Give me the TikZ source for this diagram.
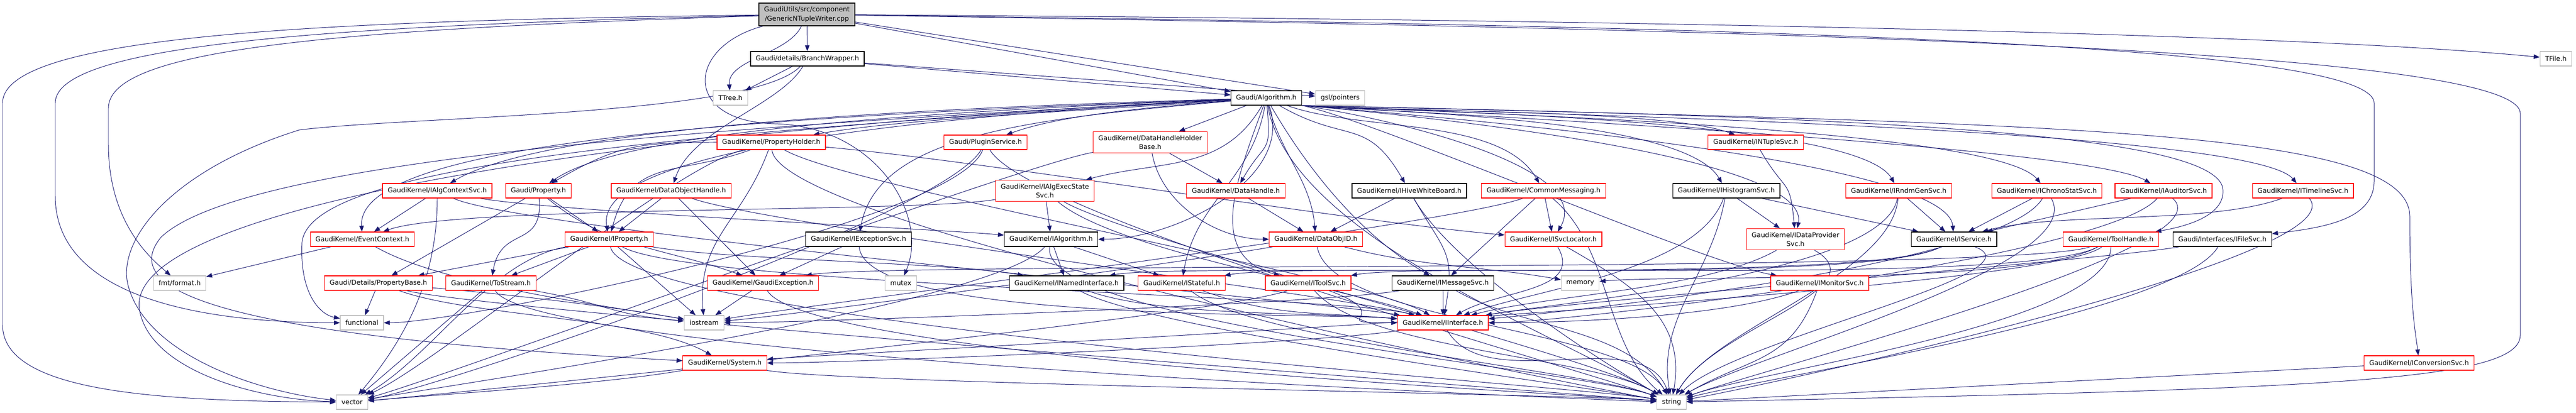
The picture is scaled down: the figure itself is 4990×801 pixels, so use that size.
\documentclass[tikz,border=0pt]{standalone}
\usepackage{fontspec}
\setmainfont{DejaVu Sans}
\usetikzlibrary{arrows.meta,backgrounds}
\definecolor{edgeblue}{HTML}{191970}
\definecolor{sysgray}{HTML}{BFBFBF}

\begin{document}
\begin{tikzpicture}[x=0.01cm, y=0.01cm, >={Triangle[length=3.3pt,width=2.5pt]}, every node/.style={font=\fontsize{3.65}{4.95}\selectfont}]
  % header boxes as doxygen draws them (red = truncated, black = complete, gray = system)
  \tikzset{hdr/.style={draw, fill=white, rectangle, line width=0.35pt, minimum height=0.28cm, inner xsep=0.1cm, inner ysep=0.07cm, align=center},
    redhdr/.style={hdr, draw=red},
    blkhdr/.style={hdr, draw=black},
    syshdr/.style={hdr, draw=sysgray},
    dep/.style={->, draw=edgeblue, line width=0.28pt, distance=1.5cm}}
  \useasboundingbox (0,0) rectangle (4990,-801);

  % rows 0-2
  \node[hdr, draw=black, fill=sysgray] (root) at (1563,-28) {GaudiUtils/src/component\\/GenericNTupleWriter.cpp};
  \node[blkhdr] (bw) at (1564,-114) {Gaudi/details/BranchWrapper.h};
  \node[syshdr] (tfile) at (4951,-114) {TFile.h};
  \node[syshdr] (ttree) at (1415,-190) {TTree.h};
  \node[blkhdr] (alg) at (2453,-190) {Gaudi/Algorithm.h};
  \node[syshdr] (gsl) at (2596,-190) {gsl/pointers};

  % row 3
  \node[redhdr] (propholder) at (1494,-276) {GaudiKernel/PropertyHolder.h};
  \node[redhdr] (plugin) at (1909,-276) {Gaudi/PluginService.h};
  \node[redhdr] (dhhb) at (2228,-276) {GaudiKernel/DataHandleHolder\\Base.h};
  \node[redhdr] (ntuple) at (3401,-276) {GaudiKernel/INTupleSvc.h};

  % row 4
  \node[redhdr] (algctx) at (847,-370) {GaudiKernel/IAlgContextSvc.h};
  \node[redhdr] (prop) at (1043,-370) {Gaudi/Property.h};
  \node[redhdr] (doh) at (1300,-370) {GaudiKernel/DataObjectHandle.h};
  \node[redhdr] (algexec) at (2024,-370) {GaudiKernel/IAlgExecState\\Svc.h};
  \node[redhdr] (dh) at (2394,-370) {GaudiKernel/DataHandle.h};
  \node[blkhdr] (hive) at (2730,-370) {GaudiKernel/IHiveWhiteBoard.h};
  \node[redhdr] (cmsg) at (2990,-370) {GaudiKernel/CommonMessaging.h};
  \node[blkhdr] (histo) at (3344,-370) {GaudiKernel/IHistogramSvc.h};
  \node[redhdr] (rndm) at (3678,-370) {GaudiKernel/IRndmGenSvc.h};
  \node[redhdr] (chrono) at (3965,-370) {GaudiKernel/IChronoStatSvc.h};
  \node[redhdr] (auditor) at (4191,-370) {GaudiKernel/IAuditorSvc.h};
  \node[redhdr] (timeline) at (4461,-370) {GaudiKernel/ITimelineSvc.h};

  % row 5
  \node[redhdr] (evctx) at (702,-464) {GaudiKernel/EventContext.h};
  \node[redhdr] (iprop) at (1180,-464) {GaudiKernel/IProperty.h};
  \node[blkhdr] (excsvc) at (1663,-464) {GaudiKernel/IExceptionSvc.h};
  \node[blkhdr] (ialg) at (2036,-464) {GaudiKernel/IAlgorithm.h};
  \node[redhdr] (objid) at (2549,-464) {GaudiKernel/DataObjID.h};
  \node[redhdr] (svcloc) at (3009,-464) {GaudiKernel/ISvcLocator.h};
  \node[redhdr] (dataprov) at (3478,-464) {GaudiKernel/IDataProvider\\Svc.h};
  \node[blkhdr] (iservice) at (3785,-464) {GaudiKernel/IService.h};
  \node[redhdr] (toolh) at (4089,-464) {GaudiKernel/ToolHandle.h};
  \node[blkhdr] (filesvc) at (4305,-464) {Gaudi/Interfaces/IFileSvc.h};

  % row 6
  \node[syshdr] (fmt) at (348,-549) {fmt/format.h};
  \node[redhdr] (propbase) at (733,-549) {Gaudi/Details/PropertyBase.h};
  \node[redhdr] (tostream) at (951,-549) {GaudiKernel/ToStream.h};
  \node[redhdr] (gexc) at (1478,-549) {GaudiKernel/GaudiException.h};
  \node[syshdr] (mutex) at (1745,-549) {mutex};
  \node[blkhdr] (named) at (2066,-549) {GaudiKernel/INamedInterface.h};
  \node[redhdr] (stateful) at (2289,-549) {GaudiKernel/IStateful.h};
  \node[redhdr] (toolsvc) at (2534,-549) {GaudiKernel/IToolSvc.h};
  \node[blkhdr] (msgsvc) at (2795,-549) {GaudiKernel/IMessageSvc.h};
  \node[syshdr] (memory) at (3061,-549) {memory};
  \node[redhdr] (monitor) at (3525,-549) {GaudiKernel/IMonitorSvc.h};

  % rows 7-9
  \node[syshdr] (functional) at (701,-626) {functional};
  \node[syshdr] (iostream) at (1364,-626) {iostream};
  \node[redhdr] (iinterface) at (2795,-626) {GaudiKernel/IInterface.h};
  \node[redhdr] (system) at (1404,-704) {GaudiKernel/System.h};
  \node[redhdr] (conv) at (4686,-704) {GaudiKernel/IConversionSvc.h};
  \node[syshdr] (vector) at (682,-780) {vector};
  \node[syshdr] (string) at (3238,-780) {string};

  \begin{scope}[on background layer]
  % the source file
  \draw[dep] (root) -- (bw);
  \draw[dep] (root) to[out=-115,in=95,distance=0.6cm] (ttree);
  \draw[dep] (root) .. controls (1330,-90) and (1320,-235) .. (1500,-240) .. controls (1700,-245) and (1800,-420) .. (mutex);
  \draw[dep] (root) -- (alg);
  \draw[dep] (root) -- (gsl);
  \draw[dep] (root) .. controls (3400,-40) and (4500,-70) .. (tfile);
  \draw[dep] (root) .. controls (3300,-50) and (4596,-80) .. (4599,-200) -- (4599,-350) .. controls (4599,-420) and (4520,-440) .. (filesvc);
  \draw[dep] (root) .. controls (3300,-55) and (4882,-90) .. (4882,-220) -- (4882,-650) .. controls (4882,-740) and (4500,-755) .. (string);
  \draw[dep] (root) .. controls (600,-40) and (5,-70) .. (5,-200) -- (5,-630) .. controls (5,-760) and (300,-778) .. (vector);
  \draw[dep] (root) .. controls (600,-50) and (107,-90) .. (107,-200) -- (107,-380) .. controls (107,-580) and (400,-626) .. (functional);
  \draw[dep] (root) .. controls (600,-58) and (210,-100) .. (210,-210) -- (210,-280) .. controls (210,-430) and (290,-500) .. (fmt);

  % BranchWrapper
  \draw[dep] (bw) -- (ttree);
  \draw[dep] (bw) -- (alg);
  \draw[dep] (bw) -- (gsl);
  \draw[dep] (bw) .. controls (1510,-205) and (1340,-250) .. (doh);
  \draw[dep] (bw) .. controls (1460,-225) and (800,-225) .. (580,-252) .. controls (330,-330) and (220,-470) .. (250,-560) .. controls (290,-690) and (500,-760) .. (vector);

  % Algorithm.h, left bundle
  \draw[dep] (alg) .. controls (2100,-215) and (1750,-230) .. (propholder);
  \draw[dep] (alg) .. controls (2200,-210) and (2050,-225) .. (plugin);
  \draw[dep] (alg) .. controls (1700,-212) and (1050,-250) .. (algctx);
  \draw[dep] (alg) .. controls (1700,-220) and (1200,-260) .. (prop);
  \draw[dep] (alg) .. controls (1500,-225) and (690,-270) .. (evctx);
  \draw[dep] (alg) .. controls (1700,-230) and (1150,-300) .. (iprop);
  \draw[dep] (alg) .. controls (2000,-230) and (1700,-260) .. (excsvc);
  \draw[dep] (alg) .. controls (1500,-240) and (480,-300) .. (312,-460) .. controls (230,-560) and (400,-650) .. (system);
  \draw[dep] (alg) .. controls (1200,-250) and (240,-400) .. (270,-600) .. controls (290,-720) and (500,-775) .. (vector);
  \draw[dep] (alg) .. controls (1200,-262) and (600,-330) .. (585,-470) .. controls (580,-570) and (620,-610) .. (functional);
  % Algorithm.h, downwards
  \draw[dep] (alg) -- (dhhb);
  \draw[dep] (alg) to[out=-120,in=15] (algexec);
  \draw[dep] (alg) to[out=-85,in=60,distance=1cm] (dh);
  \draw[dep] (alg) to[out=-70,in=0] (ialg);
  \draw[dep] (alg) to[out=-75,in=95,distance=1cm] (objid);
  \draw[dep] (alg) to[out=-110,in=165] (toolsvc);
  \draw[dep] (alg) to[out=-100,in=80] (stateful);
  \draw[dep] (alg) to[out=-60,in=150] (msgsvc);
  \draw[dep] (alg) to[out=-80,in=150,distance=2.5cm] (string);
  \draw[dep] (alg) to[out=-30,in=120] (hive);
  \draw[dep] (alg) to[out=-20,in=120] (cmsg);
  % Algorithm.h, right bundle under gsl/pointers
  \draw[dep] (alg.south east) to[out=-5,in=160] (ntuple);
  \draw[dep] (alg.south east) to[out=-5,in=120] (histo);
  \draw[dep] (alg.south east) to[out=-4,in=120] (rndm);
  \draw[dep] (alg.south east) to[out=-4,in=130] (chrono);
  \draw[dep] (alg.south east) to[out=-4,in=150] (auditor);
  \draw[dep] (alg.south east) to[out=-4,in=130] (timeline);
  \draw[dep] (alg.south east) to[out=-8,in=60] (svcloc);
  \draw[dep] (alg.south east) to[out=-5,in=80] (dataprov);
  \draw[dep] (alg.south east) to[out=-5,in=95] (iservice);
  \draw[dep] (alg.south east) to[out=-12,in=170] (monitor);
  \draw[dep] (alg.south east) .. controls (3500,-225) and (4300,-250) .. (4306,-368) .. controls (4310,-420) and (4230,-440) .. (toolh);
  \draw[dep] (alg.south east) .. controls (4000,-240) and (4668,-250) .. (4668,-420) .. controls (4668,-600) and (4680,-650) .. (conv);

  % row 3 headers
  \draw[dep] (propholder) to[out=180,in=30] (prop);
  \draw[dep] (propholder) to[out=200,in=75] (iprop);
  \draw[dep] (propholder) to[out=-5,in=175,distance=3cm] (svcloc);
  \draw[dep] (propholder) to[out=-110,in=95] (iostream);
  \draw[dep] (propholder) to[out=-85,in=170] (string);
  \draw[dep] (propholder) to[out=195,in=25] (vector);
  \draw[dep] (propholder) to[out=-30,in=150] (iinterface);
  \draw[dep] (plugin) to[out=-110,in=0] (functional);
  \draw[dep] (plugin) to[out=-60,in=160] (string);
  \draw[dep] (plugin) to[out=-120,in=10] (vector);
  \draw[dep] (dhhb) -- (dh);
  \draw[dep] (dhhb) to[out=-80,in=180,distance=1cm] (objid);
  \draw[dep] (dhhb) to[out=190,in=15] (vector);
  \draw[dep] (ntuple) to[out=-60,in=95,distance=1cm] (dataprov);

  % row 4 headers
  \draw[dep] (algctx) -- (evctx);
  \draw[dep] (algctx) to[out=-10,in=175] (ialg);
  \draw[dep] (algctx) to[out=-25,in=170] (iinterface);
  \draw[dep] (algctx) to[out=-90,in=50] (vector);
  \draw[dep] (prop) -- (iprop);
  \draw[dep] (prop) -- (propbase);
  \draw[dep] (prop) to[out=-85,in=80,distance=1cm] (tostream);
  \draw[dep] (prop) to[out=-40,in=160] (gexc);
  \draw[dep] (doh) -- (iprop);
  \draw[dep] (doh) -- (gexc);
  \draw[dep] (doh) to[out=-20,in=165] (iinterface);
  \draw[dep] (algexec) -- (ialg);
  \draw[dep] (algexec) to[out=190,in=20] (evctx);
  \draw[dep] (algexec) to[out=-30,in=150] (string);
  \draw[dep] (algexec) to[out=-40,in=160] (iinterface);
  \draw[dep] (dh) -- (objid);
  \draw[dep] (hive) -- (objid);
  \draw[dep] (hive) to[out=-60,in=80,distance=1.25cm] (iinterface);
  \draw[dep] (hive) to[out=-60,in=150] (string);
  \draw[dep] (cmsg) -- (msgsvc);
  \draw[dep] (cmsg) -- (svcloc);
  \draw[dep] (cmsg) to[out=-40,in=140] (string);
  \draw[dep] (cmsg) to[out=200,in=10] (iostream);
  \draw[dep] (histo) -- (dataprov);
  \draw[dep] (histo) -- (iservice);
  \draw[dep] (histo) to[out=-110,in=20] (iinterface);
  \draw[dep] (histo) to[out=-100,in=100] (string);
  \draw[dep] (rndm) -- (iservice);
  \draw[dep] (rndm) to[out=-95,in=60] (string);
  \draw[dep] (rndm) to[out=-100,in=10] (iinterface);
  \draw[dep] (chrono) -- (iservice);
  \draw[dep] (chrono) to[out=-60,in=30] (string);
  \draw[dep] (chrono) to[out=-120,in=5] (iinterface);
  \draw[dep] (auditor) -- (iservice);
  \draw[dep] (auditor) to[out=-40,in=20] (string);
  \draw[dep] (auditor) to[out=-130,in=0] (iinterface);
  \draw[dep] (timeline) to[out=-160,in=15] (iservice);
  \draw[dep] (timeline) to[out=-50,in=10] (string);

  % row 5 headers
  \draw[dep] (evctx) -- (fmt);
  \draw[dep] (evctx) to[out=-30,in=170] (iostream);
  \draw[dep] (iprop) -- (propbase);
  \draw[dep] (iprop) -- (tostream);
  \draw[dep] (iprop) -- (iostream);
  \draw[dep] (iprop) to[out=-30,in=165] (iinterface);
  \draw[dep] (iprop) to[out=-10,in=170] (named);
  \draw[dep] (iprop) to[out=-80,in=170] (string);
  \draw[dep] (iprop) to[out=190,in=30] (vector);
  \draw[dep] (excsvc) -- (gexc);
  \draw[dep] (excsvc) to[out=-85,in=175] (iinterface);
  \draw[dep] (ialg) -- (named);
  \draw[dep] (ialg) -- (stateful);
  \draw[dep] (ialg) to[out=-100,in=160] (string);
  \draw[dep] (ialg) to[out=-130,in=10] (vector);
  \draw[dep] (objid) to[out=-80,in=120] (string);
  \draw[dep] (objid) to[out=190,in=5] (iostream);
  \draw[dep] (objid) to[out=-15,in=170] (memory);
  \draw[dep] (svcloc) to[out=-60,in=30,distance=1cm] (iinterface);
  \draw[dep] (svcloc) to[out=-30,in=80] (string);
  \draw[dep] (dataprov) to[out=-150,in=15] (iinterface);
  \draw[dep] (dataprov) to[out=-30,in=60] (string);
  \draw[dep] (iservice) to[out=-150,in=10] (named);
  \draw[dep] (iservice) to[out=-150,in=10] (stateful);
  \draw[dep] (iservice) to[out=-20,in=45] (string);
  \draw[dep] (toolh) to[out=-150,in=10] (toolsvc);
  \draw[dep] (toolh) to[out=-160,in=10] (gexc);
  \draw[dep] (toolh) to[out=-150,in=5] (memory);
  \draw[dep] (toolh) to[out=-90,in=20] (string);
  \draw[dep] (toolh) to[out=-140,in=5] (system);
  \draw[dep] (filesvc) to[out=-120,in=15] (string);
  \draw[dep] (filesvc) to[out=-170,in=10] (iinterface);

  % row 6 headers
  \draw[dep] (propbase) -- (functional);
  \draw[dep] (propbase) to[out=-20,in=150] (system);
  \draw[dep] (propbase) to[out=-5,in=170] (iostream);
  \draw[dep] (propbase) to[out=-15,in=175] (string);
  \draw[dep] (tostream) -- (vector);
  \draw[dep] (tostream) to[out=-60,in=178] (string);
  \draw[dep] (tostream) to[out=-10,in=175] (iostream);
  \draw[dep] (gexc) -- (iostream);
  \draw[dep] (gexc) to[out=-60,in=175] (string);
  \draw[dep] (named) to[out=-20,in=175] (iinterface);
  \draw[dep] (named) to[out=-30,in=170] (string);
  \draw[dep] (stateful) to[out=-20,in=175] (iinterface);
  \draw[dep] (stateful) to[out=-40,in=160] (string);
  \draw[dep] (toolsvc) to[out=-20,in=180] (iinterface);
  \draw[dep] (toolsvc) to[out=-50,in=150] (string);
  \draw[dep] (toolsvc) to[out=-160,in=5] (vector);
  \draw[dep] (msgsvc) -- (iinterface);
  \draw[dep] (msgsvc) to[out=-30,in=120] (string);
  \draw[dep] (msgsvc) to[out=190,in=0] (iostream);
  \draw[dep] (monitor) to[out=-160,in=0] (iinterface);
  \draw[dep] (monitor) to[out=-110,in=30] (string);

  % bottom rows
  \draw[dep] (conv) -- (string);
  \draw[dep] (iinterface) to[out=-170,in=0] (system);
  \draw[dep] (iinterface) to[out=-60,in=110] (string);
  \draw[dep] (system) to[out=-10,in=175] (string);
  \draw[dep] (system) to[out=-170,in=5] (vector);
  \end{scope}
\end{tikzpicture}
\end{document}
